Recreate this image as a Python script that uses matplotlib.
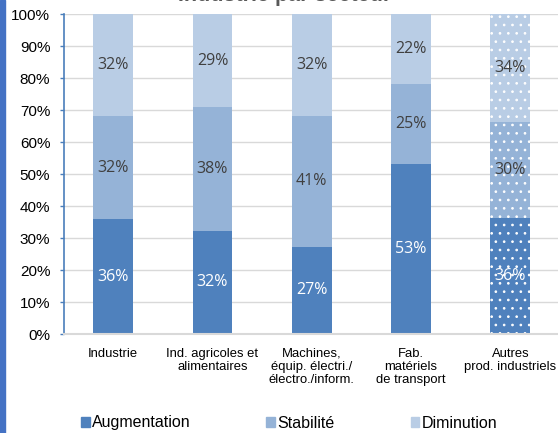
import numpy as np
import matplotlib
matplotlib.use("Agg")
import matplotlib.pyplot as plt
from matplotlib.patches import Patch, Rectangle

# Données
categories = ["Industrie", "Ind. agricoles et\nalimentaires", "Machines,\néquip. électri./\nélectro./inform.",
              "Fab.\nmatériels\nde transport", "Autres\nprod. industriels"]
augmentation = [35.8, 32.3, 27.2, 53.2, 36.2]
stabilite = [32.4, 38.5, 41.0, 25.0, 30.0]
diminution = [31.8, 29.2, 31.8, 21.8, 33.8]
series_noms = ["Augmentation", "Stabilité", "Diminution"]
couleurs = ["#4f81bd", "#95b3d7", "#b9cde5"]
titre = "Industrie par secteur"

plt.rcParams["hatch.linewidth"] = 0.7

W, H = 558, 433
fig = plt.figure(figsize=(W / 100, H / 100), dpi=100)

# bande bleue à gauche
fig.patches.append(Rectangle((0, 0), 5 / W, 1, transform=fig.transFigure,
                             color="#4472c4", zorder=0))

x0, x1 = 63.5, 560
ytop, ybot = 14, 334
ax = fig.add_axes([x0 / W, (H - ybot) / H, (x1 - x0) / W, (ybot - ytop) / H])

x = np.arange(len(categories))
largeur = 0.4
bas = np.zeros(len(categories))
for i, (vals, nom, c) in enumerate(zip([augmentation, stabilite, diminution], series_noms, couleurs)):
    vals = np.array(vals)
    bars = ax.bar(x, vals, largeur, bottom=bas, color=c, label=nom, linewidth=0, zorder=2)
    # motif pointillé pour la dernière catégorie
    bars[-1].set_hatch("..")
    bars[-1].set_edgecolor("white")
    bars[-1].set_linewidth(0)
    for xi, v, b in zip(x, vals, bas):
        ax.text(xi, b + v / 2, f"{round(v):.0f}%", ha="center", va="center",
                fontsize=11.5, family="Open Sans",
                color="white" if i == 0 else "#404040", zorder=3)
    bas += vals

ax.set_xlim(-0.5, 4.5)
ax.set_ylim(0, 100)
ax.set_yticks(np.arange(0, 101, 10))
ax.set_yticklabels([f"{v}%" for v in range(0, 101, 10)], family="Liberation Sans",
                   fontsize=11, color="#000000")
ax.set_xticks(x)
ax.set_xticklabels(categories, family="Liberation Sans", fontsize=9.4, linespacing=1.12)
ax.tick_params(axis="x", length=0, pad=10)
ax.tick_params(axis="y", length=3, width=1, color="#4a7ebb", pad=6.5, direction="out")
ax.yaxis.grid(True, color="#d9d9d9", linewidth=1, zorder=0)
ax.set_axisbelow(True)
for s in ["top", "right"]:
    ax.spines[s].set_visible(False)
ax.spines["left"].set_color("#4a7ebb")
ax.spines["left"].set_linewidth(1.2)
ax.spines["bottom"].set_color("#d9d9d9")
ax.spines["bottom"].set_linewidth(1.5)

fig.text(285 / W, (H - 1.5) / H, titre, ha="center", va="baseline", fontsize=15.5,
         fontweight="bold", family="Liberation Sans", color="#595959")

handles = [Patch(color=c, label=n) for c, n in zip(couleurs, series_noms)]
fig.legend(handles=handles, loc="center", bbox_to_anchor=(289 / W, (H - 423) / H), ncol=3,
           frameon=False, prop={"family": "Liberation Sans", "size": 11.5},
           handlelength=0.56, handleheight=0.56, handletextpad=0.13, columnspacing=4.75,
           borderpad=0, borderaxespad=0)

fig.savefig("out.png", dpi=100)
